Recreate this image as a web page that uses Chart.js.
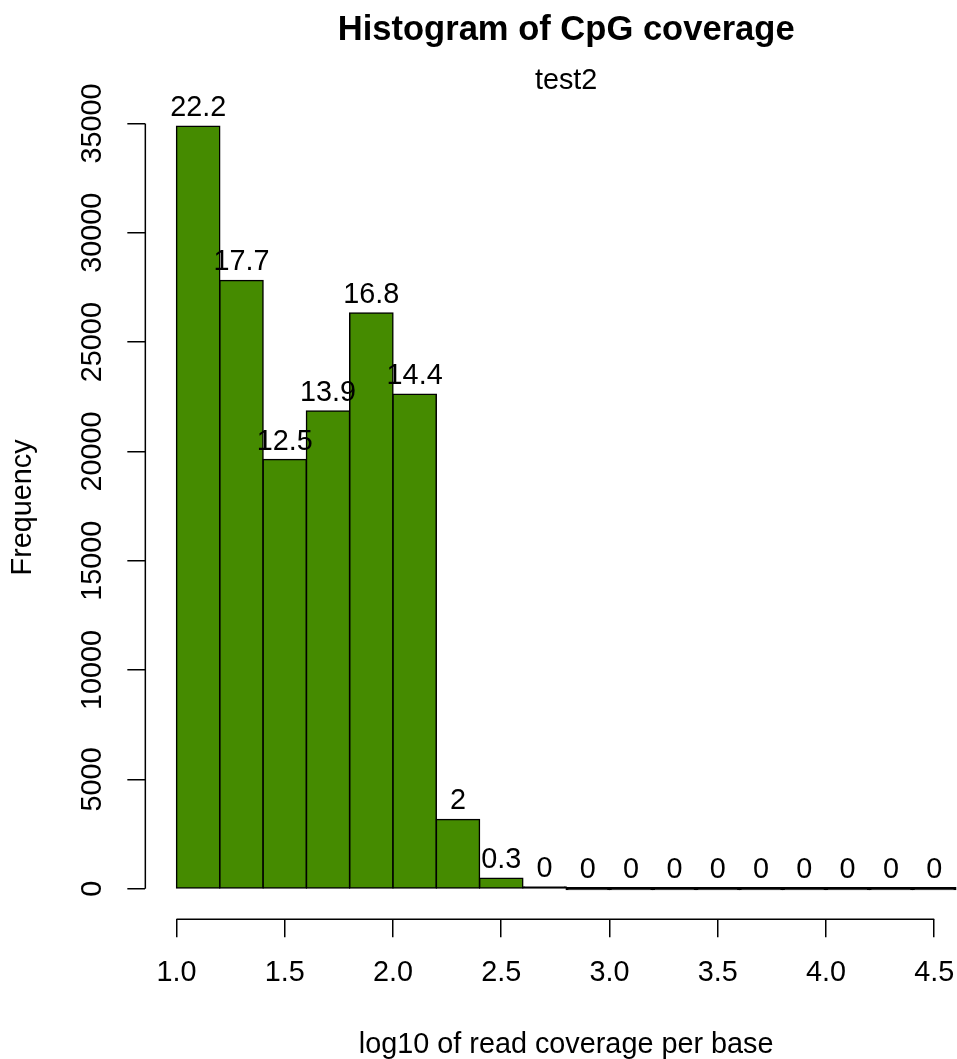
<!DOCTYPE html>
<html><head><meta charset="utf-8">
<script src="https://cdn.jsdelivr.net/npm/chart.js@4/dist/chart.umd.min.js"></script>
<style>html,body{margin:0;padding:0;background:#fff;overflow:hidden}canvas{display:block}</style>
</head><body>
<canvas id="c" width="987" height="1059"></canvas>
<script>
// ---- data ----
const breaks = [1.0, 1.2, 1.4, 1.6, 1.8, 2.0, 2.2, 2.4, 2.6, 2.8, 3.0, 3.2, 3.4, 3.6, 3.8, 4.0, 4.2, 4.4, 4.6];
const counts = [34880, 27820, 19630, 21850, 26340, 22620, 3170, 476, 60, 0, 0, 0, 0, 0, 0, 0, 0, 0];
const pctLabels = ['22.2', '17.7', '12.5', '13.9', '16.8', '14.4', '2', '0.3', '0', '0', '0', '0', '0', '0', '0', '0', '0', '0'];
const xTickValues = [1.0, 1.5, 2.0, 2.5, 3.0, 3.5, 4.0, 4.5];
const xTickLabels = ['1.0', '1.5', '2.0', '2.5', '3.0', '3.5', '4.0', '4.5'];
const yTickValues = [0, 5000, 10000, 15000, 20000, 25000, 30000, 35000];
const yTickLabels = ['0', '5000', '10000', '15000', '20000', '25000', '30000', '35000'];
const titleText = 'Histogram of CpG coverage';
const subtitleText = 'test2';
const xTitle = 'log10 of read coverage per base';
const yTitle = 'Frequency';

// ---- build ----
const FONT = 'Liberation Sans, Arial, Helvetica, sans-serif';
const FS = 28.8;
const points = counts.map((c, i) => ({ x: (breaks[i] + breaks[i + 1]) / 2, y: c }));
const xSpan = breaks[breaks.length - 1] - breaks[0];
const yMaxData = Math.max(...counts);

const rAxes = {
  id: 'rAxes',
  afterDraw(chart) {
    const { ctx, chartArea, scales: { x, y } } = chart;
    ctx.save();
    ctx.strokeStyle = '#000';
    ctx.lineWidth = 1.5;
    ctx.beginPath();
    ctx.moveTo(x.getPixelForValue(xTickValues[0]), chartArea.bottom);
    ctx.lineTo(x.getPixelForValue(xTickValues[xTickValues.length - 1]), chartArea.bottom);
    ctx.moveTo(chartArea.left, y.getPixelForValue(yTickValues[0]));
    ctx.lineTo(chartArea.left, y.getPixelForValue(yTickValues[yTickValues.length - 1]));
    ctx.stroke();
    ctx.restore();
  }
};

const barLabels = {
  id: 'barLabels',
  afterDatasetsDraw(chart) {
    const { ctx } = chart;
    const meta = chart.getDatasetMeta(0);
    ctx.save();
    ctx.fillStyle = '#000';
    ctx.font = FS + 'px ' + FONT;
    ctx.textAlign = 'center';
    ctx.textBaseline = 'alphabetic';
    meta.data.forEach((el, i) => {
      const top = Math.min(el.y, el.base);
      ctx.fillText(pctLabels[i], el.x, top - 10);
    });
    ctx.restore();
  }
};

new Chart(document.getElementById('c'), {
  type: 'bar',
  data: {
    datasets: [{
      data: points,
      // bins too short to show fill are drawn as R does: just the outline
      backgroundColor: c => (c.raw && c.raw.y < yMaxData * 0.002) ? '#000' : '#458B00',
      borderColor: '#000',
      borderWidth: 1.5,
      borderSkipped: false,
      inflateAmount: 0.7,
      minBarLength: 1.8,
      barPercentage: 1,
      categoryPercentage: 1
    }]
  },
  options: {
    responsive: false,
    animation: false,
    devicePixelRatio: 1,
    layout: { padding: 0 },
    plugins: {
      legend: { display: false },
      tooltip: { enabled: false },
      title: {
        display: true, text: titleText, color: '#000', fullSize: false,
        font: { family: FONT, size: FS * 1.2, weight: 'bold' },
        padding: { top: 9.5, bottom: 0 }
      },
      subtitle: {
        display: true, text: subtitleText, color: '#000', fullSize: false,
        font: { family: FONT, size: FS, weight: 'normal' },
        padding: { top: 12.8, bottom: -2.7 }
      }
    },
    scales: {
      x: {
        type: 'linear',
        offset: false,
        min: breaks[0] - 0.04 * xSpan,
        max: breaks[breaks.length - 1] + 0.04 * xSpan,
        border: { display: false },
        grid: { display: true, offset: false, drawOnChartArea: false, drawTicks: true, tickLength: 18, color: '#000', lineWidth: 1.5 },
        ticks: {
          autoSkip: false, maxRotation: 0, minRotation: 0, padding: 19, color: '#000',
          font: { family: FONT, size: FS },
          callback: (v, i) => xTickLabels[i]
        },
        title: { display: true, text: xTitle, color: '#000', font: { family: FONT, size: FS }, padding: { top: 0, bottom: -3.5 } },
        afterBuildTicks: s => { s.ticks = xTickValues.map(v => ({ value: v })); },
        afterFit: s => { s.height = 139.8; s.paddingLeft = 0; s.paddingRight = 0; }
      },
      y: {
        type: 'linear',
        min: -0.04 * yMaxData,
        max: 1.04 * yMaxData,
        border: { display: false },
        grid: { display: true, drawOnChartArea: false, drawTicks: true, tickLength: 18, color: '#000', lineWidth: 1.5 },
        ticks: {
          autoSkip: false, minRotation: 90, maxRotation: 90, crossAlign: 'center', padding: -6, color: '#000',
          font: { family: FONT, size: FS },
          callback: (v, i) => yTickLabels[i]
        },
        title: { display: true, text: yTitle, color: '#000', font: { family: FONT, size: FS }, padding: { top: 6, bottom: 0 } },
        afterBuildTicks: s => { s.ticks = yTickValues.map(v => ({ value: v })); },
        afterFit: s => { s.width = 145.33; s.paddingTop = 0; s.paddingBottom = 0; }
      }
    }
  },
  plugins: [rAxes, barLabels]
});
</script>
</body></html>
